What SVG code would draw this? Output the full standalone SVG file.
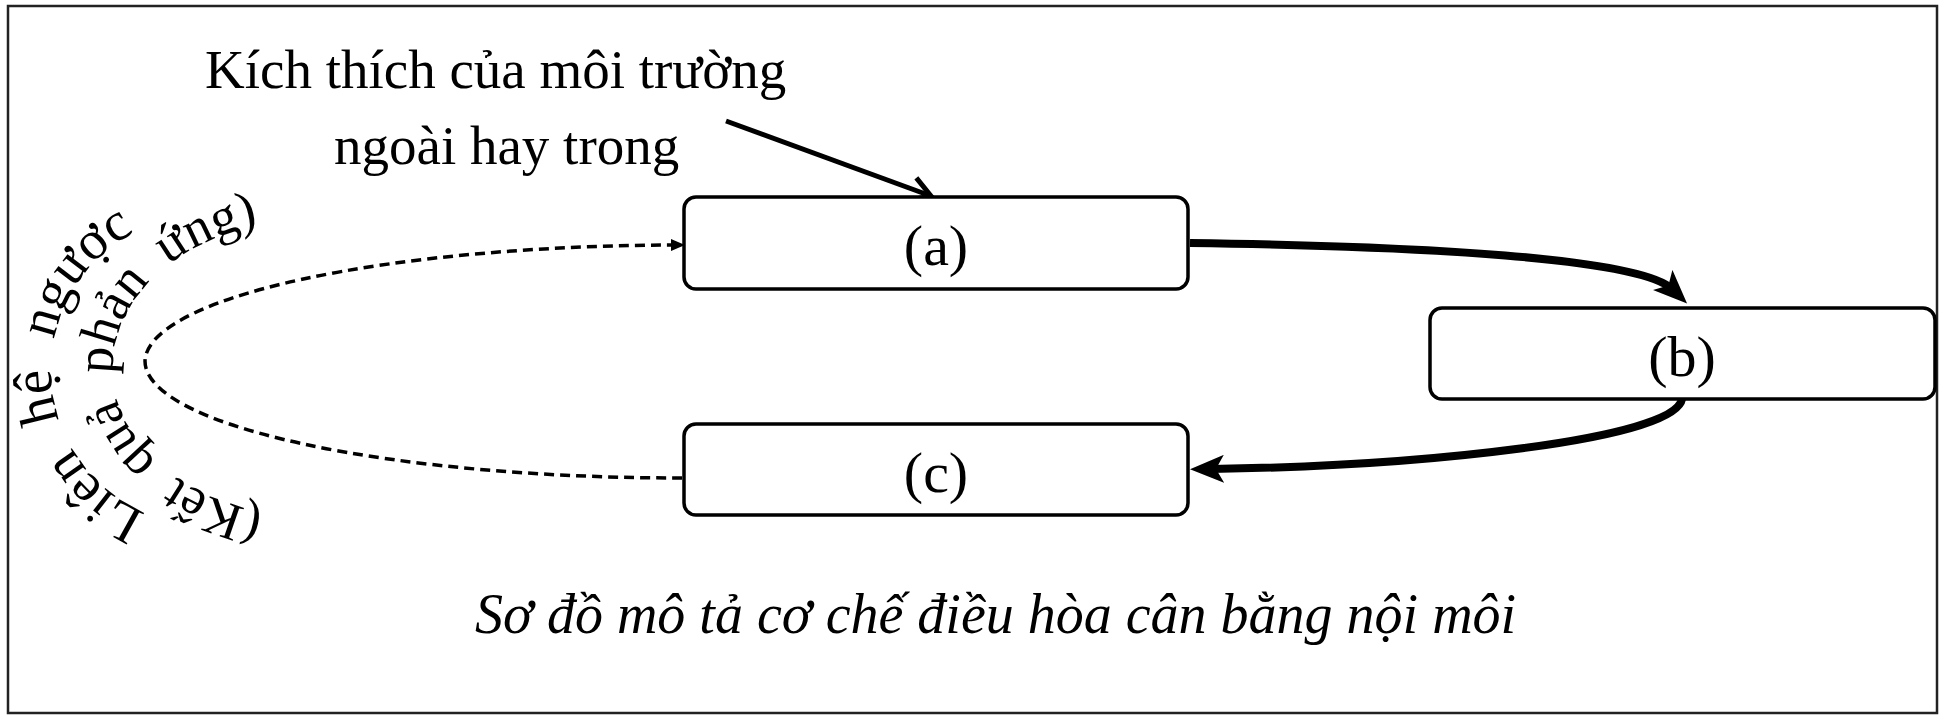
<svg xmlns="http://www.w3.org/2000/svg" width="1944" height="722" viewBox="0 0 1944 722">
<style>
.t{font-family:"Liberation Serif","Times New Roman",serif;fill:#000}
.box{fill:#fff;stroke:#000;stroke-width:3.5}
.thick{fill:none;stroke:#000;stroke-width:8}
.dash{fill:none;stroke:#000;stroke-width:3.5;stroke-dasharray:10 6}
</style>
<defs>
<marker id="fill" markerUnits="userSpaceOnUse" viewBox="0 0 34 28" refX="13" refY="14" markerWidth="34" markerHeight="28" orient="auto">
<path d="M0,0 L34,14 L0,28 L8,14 Z" fill="#000"/>
</marker>
<marker id="small" markerUnits="userSpaceOnUse" viewBox="0 0 14 12" refX="4" refY="6" markerWidth="14" markerHeight="12" orient="auto">
<path d="M0,0 L14,6 L0,12 Z" fill="#000"/>
</marker>
<marker id="open" markerUnits="userSpaceOnUse" viewBox="0 0 30 30" refX="26" refY="15" markerWidth="30" markerHeight="30" orient="auto">
<path d="M6,3 L26,15 L6,27" fill="none" stroke="#000" stroke-width="5"/>
</marker>
<path id="outerArc" d="M158.1,517.4 A155,155 0 0 1 165.9,220.3"/>
<path id="innerArc" d="M292.7,515.4 A198,148 0 0 1 292.7,220.6"/>
</defs>
<rect x="8" y="6" width="1929" height="707" fill="#fff" stroke="#222" stroke-width="2.5"/>

<g id="stimulus">
<text class="t" font-size="55" x="205" y="88">Kích thích của môi trường</text>
<text class="t" font-size="55" x="334" y="164">ngoài hay trong</text>
</g>

<g id="connectors">
<path d="M726,121 L931,196" fill="none" stroke="#000" stroke-width="5" marker-end="url(#open)"/>
<path class="thick" d="M1190,243 C1420,246 1640,258 1672,289" marker-end="url(#fill)"/>
<path class="thick" d="M1682,399 C1675,440 1420,466 1211,469" marker-end="url(#fill)"/>
<path class="dash" d="M682,478 A537,117 0 0 1 145,361 A537,117 0 0 1 675,245" marker-end="url(#small)"/>
</g>

<g id="node-a">
<rect class="box" x="684" y="197" width="504" height="92" rx="12"/>
<text class="t" font-size="58" x="936" y="265" text-anchor="middle">(a)</text>
</g>
<g id="node-b">
<rect class="box" x="1430" y="308" width="505" height="91" rx="12"/>
<text class="t" font-size="58" x="1682" y="376" text-anchor="middle">(b)</text>
</g>
<g id="node-c">
<rect class="box" x="684" y="424" width="504" height="91" rx="12"/>
<text class="t" font-size="58" x="936" y="492" text-anchor="middle">(c)</text>
</g>

<g id="feedback-labels">
<text class="t" font-size="55" word-spacing="16"><textPath href="#outerArc" startOffset="13">Liên hệ ngược</textPath></text>
<text class="t" font-size="53" word-spacing="11"><textPath href="#innerArc" startOffset="30">(Kết quả phản ứng)</textPath></text>
</g>

<g id="caption">
<text class="t" font-size="56" font-style="italic" x="475" y="633">Sơ đồ mô tả cơ chế điều hòa cân bằng nội môi</text>
</g>
</svg>
